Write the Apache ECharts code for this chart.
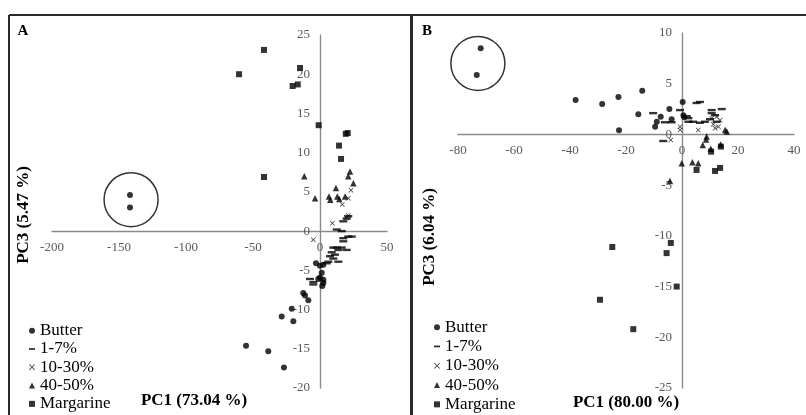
<!DOCTYPE html>
<html>
<head>
<meta charset="utf-8">
<script src="https://cdn.jsdelivr.net/npm/echarts@6/dist/echarts.min.js"></script>
<style>
html, body { margin: 0; padding: 0; background: #fff; }
#chart { width: 806px; height: 415px; }
</style>
</head>
<body>
<div id="chart"></div>
<script>
// Panel A: PC1 (73.04 %) vs PC3 (5.47 %)
const butterA = [[-3.0, -4.1], [0, -4.4], [2.5, -4.3], [1.3, -5.3], [0, -5.9], [2.5, -6.2], [-1.3, -6.1],
	[2.5, -6.6], [1.7, -7.0], [-12.5, -7.9], [-11.2, -8.2], [-8.7, -8.8], [-21.1, -9.9], [-28.6, -10.9],
	[-19.9, -11.5], [-55.2, -14.6], [-38.6, -15.3], [-26.9, -17.4], [-141.8, 4.6], [-141.8, 3.0]];
const lowA = [[21.1, 1.9], [19.9, 1.6], [17.4, 1.25], [12.5, 0.2], [16.2, 0.0], [17.4, -0.9], [21.1, -0.7],
	[23.7, -0.7], [17.4, -1.3], [12.5, -2.1], [16.2, -2.1], [19.9, -2.4], [9.9, -2.1], [13.7, -2.4],
	[8.7, -2.7], [11.2, -3.0], [7.5, -3.2], [9.9, -3.5], [13.7, -3.9], [6.2, -3.9], [5.0, -4.1],
	[-7.5, -6.1], [-5.0, -6.5], [-5.0, -6.8]];
const midA = [[23.1, 5.2], [21.1, 4.2], [16.6, 3.4], [9.2, 1.0], [-5.0, -1.1], [19.9, 1.7], [21.1, 2.0]];
const highA = [[-11.7, 7.0], [-3.7, 4.2], [6.7, 4.4], [7.7, 4.0], [11.9, 5.5], [12.9, 4.4], [14.4, 4.1],
	[18.7, 4.4], [21.1, 7.0], [22.4, 7.6], [24.9, 6.1]];
const margA = [[-41.8, 23.1], [-60.4, 20.0], [-14.9, 20.8], [-20.4, 18.5], [-16.6, 18.7], [-1.0, 13.5],
	[19.2, 12.4], [20.7, 12.5], [14.2, 10.9], [15.7, 9.2], [-41.8, 6.9]];
const circleA = [[-141, 4.0]];

// Panel B: PC1 (80.00 %) vs PC3 (6.04 %)
const butterB = [[-38.0, 3.4], [-28.5, 3.0], [-22.7, 3.7], [-14.2, 4.3], [-15.6, 2.0], [-22.5, 0.4],
	[0.25, 3.2], [-4.5, 2.5], [-7.6, 1.75], [-9.0, 1.25], [-9.6, 0.76], [-3.7, 1.5], [0.5, 1.9],
	[0.8, 1.7], [-71.9, 8.5], [-73.3, 5.86]];
const lowB = [[5.2, 3.1], [6.4, 3.2], [-10.3, 2.1], [-0.7, 2.4], [10.6, 2.4], [14.2, 2.5], [-6.1, 1.2],
	[-3.7, 1.2], [2.3, 1.25], [4.0, 1.25], [6.4, 1.15], [8.2, 1.25], [10, 1.5], [11.8, 1.9], [10.6, 2.1],
	[12.4, 1.25], [-6.7, -0.65], [2.3, 1.6], [1.7, 1.8]];
const midB = [[-4.0, -0.55], [-0.7, 0.76], [-0.7, 0.43], [5.8, 0.43], [11.2, 1.0], [11.8, 0.6], [13.0, 0.76],
	[10.6, 1.6], [12.4, 1.75], [13.6, 1.4]];
const highB = [[7.4, -1.05], [8.8, -0.2], [8.6, -0.5], [10.3, -1.4], [15.4, 0.43], [16.0, 0.3], [-0.1, -2.85],
	[3.7, -2.75], [5.8, -2.85], [-4.3, -4.6], [13.8, -1.0]];
const margB = [[10.4, -1.7], [13.9, -1.2], [5.2, -3.5], [11.8, -3.6], [13.6, -3.3], [-24.9, -11.1],
	[-4.0, -10.7], [-5.5, -11.7], [-1.9, -15.0], [-29.3, -16.3], [-17.4, -19.2]];
const circleB = [[-72.9, 7.0]];

const groups = ['Butter', '1-7%', '10-30%', '40-50%', 'Margarine'];

// axis ranges [min, max, interval]
const xRangeA = [-200, 50, 50];
const yRangeA = [-20, 25, 5];
const xRangeB = [-80, 40, 20];
const yRangeB = [-25, 10, 5];

const FONT = 'Liberation Serif';
const DASH = 'path://M0,0h10v3h-10z';
const CROSS = 'path://M0,1L1,0L5,4L9,0L10,1L6,5L10,9L9,10L5,6L1,10L0,9L4,5Z';
const symbols = {
	'Butter': { symbol: 'circle', size: 6 },
	'1-7%': { symbol: DASH, size: [8, 2.4] },
	'10-30%': { symbol: CROSS, size: 5 },
	'40-50%': { symbol: 'triangle', size: 6.5 },
	'Margarine': { symbol: 'rect', size: 6 }
};

const grids = [
	{ left: 52, top: 35, width: 335, height: 353 },
	{ left: 458, top: 33, width: 336, height: 355 }
];

function pointSeries ( name, data, idx ) {
	return {
		type: 'scatter',
		name: name,
		xAxisIndex: idx,
		yAxisIndex: idx,
		data: data,
		symbol: symbols[ name ].symbol,
		symbolSize: symbols[ name ].size,
		itemStyle: { color: '#000' },
		z: 3
	};
}

function ringSeries ( data, idx ) {
	return {
		type: 'scatter',
		name: 'ring' + idx,
		xAxisIndex: idx,
		yAxisIndex: idx,
		data: data,
		symbol: 'circle',
		symbolSize: 54,
		silent: true,
		itemStyle: { color: 'transparent', borderColor: '#000', borderWidth: 1.5 },
		z: 2
	};
}

// axis crossing the other one at zero: shift it inward by where 0 falls on the other axis
function valueAxis ( idx, range, otherRange, isY ) {
	const span = isY ? grids[ idx ].width : grids[ idx ].height;
	const zeroShift = span * ( 0 - otherRange[ 0 ] ) / ( otherRange[ 1 ] - otherRange[ 0 ] );
	return {
		type: 'value',
		gridIndex: idx,
		position: isY ? 'left' : 'bottom',
		offset: -zeroShift,
		min: range[ 0 ],
		max: range[ 1 ],
		interval: range[ 2 ],
		axisLine: { onZero: false, lineStyle: { color: '#8a8a8a', width: 1.4 } },
		axisTick: { show: false },
		splitLine: { show: false },
		axisLabel: {
			color: '#595959',
			fontFamily: FONT,
			fontSize: 13,
			margin: isY ? 10 : 10
		}
	};
}

function legendFor ( left, bottom, lineHeight ) {
	return {
		orient: 'vertical',
		left: left,
		bottom: bottom,
		padding: 0,
		itemWidth: 6,
		itemHeight: 6,
		itemGap: 0,
		selectedMode: false,
		data: [
			{ name: 'Butter', icon: 'circle' },
			{ name: '1-7%', icon: DASH },
			{ name: '10-30%', icon: CROSS },
			{ name: '40-50%', icon: 'triangle' },
			{ name: 'Margarine', icon: 'rect' }
		],
		textStyle: { fontFamily: FONT, fontSize: 17, lineHeight: lineHeight, color: '#000' }
	};
}

function label ( text, x, y, size, rotate ) {
	return {
		type: 'text',
		x: x,
		y: y,
		rotation: rotate ? Math.PI / 2 : 0,
		style: {
			text: text,
			font: 'bold ' + size + 'px "' + FONT + '"',
			fill: '#000',
			align: 'center',
			verticalAlign: 'middle'
		}
	};
}

const chart = echarts.init( document.getElementById( 'chart' ) );

const seriesA = [ butterA, lowA, midA, highA, margA ].map( ( d, i ) => pointSeries( groups[ i ], d, 0 ) );
const seriesB = [ butterB, lowB, midB, highB, margB ].map( ( d, i ) => pointSeries( groups[ i ], d, 1 ) );

chart.setOption( {
	animation: false,
	backgroundColor: '#fff',
	grid: grids,
	xAxis: [
		valueAxis( 0, xRangeA, yRangeA, false ),
		valueAxis( 1, xRangeB, yRangeB, false )
	],
	yAxis: [
		valueAxis( 0, yRangeA, xRangeA, true ),
		valueAxis( 1, yRangeB, xRangeB, true )
	],
	legend: [
		legendFor( 29, 2, 18.3 ),
		legendFor( 434, 1, 19.3 )
	],
	series: [ ringSeries( circleA, 0 ), ringSeries( circleB, 1 ) ].concat( seriesA, seriesB ),
	graphic: [
		// panel frames
		{ type: 'line', shape: { x1: 9, y1: 15, x2: 806, y2: 15 }, style: { stroke: '#2b2b2b', lineWidth: 2 } },
		{ type: 'line', shape: { x1: 9, y1: 15, x2: 9, y2: 415 }, style: { stroke: '#2b2b2b', lineWidth: 2 } },
		{ type: 'line', shape: { x1: 411.5, y1: 15, x2: 411.5, y2: 415 }, style: { stroke: '#2b2b2b', lineWidth: 3 } },
		label( 'A', 23, 31, 15, false ),
		label( 'B', 427, 31, 15, false ),
		label( 'PC3 (5.47 %)', 24, 215, 17, true ),
		label( 'PC1 (73.04 %)', 194, 401, 17, false ),
		label( 'PC3 (6.04 %)', 430, 237, 17, true ),
		label( 'PC1 (80.00 %)', 626, 403, 17, false )
	]
} );
</script>
</body>
</html>
